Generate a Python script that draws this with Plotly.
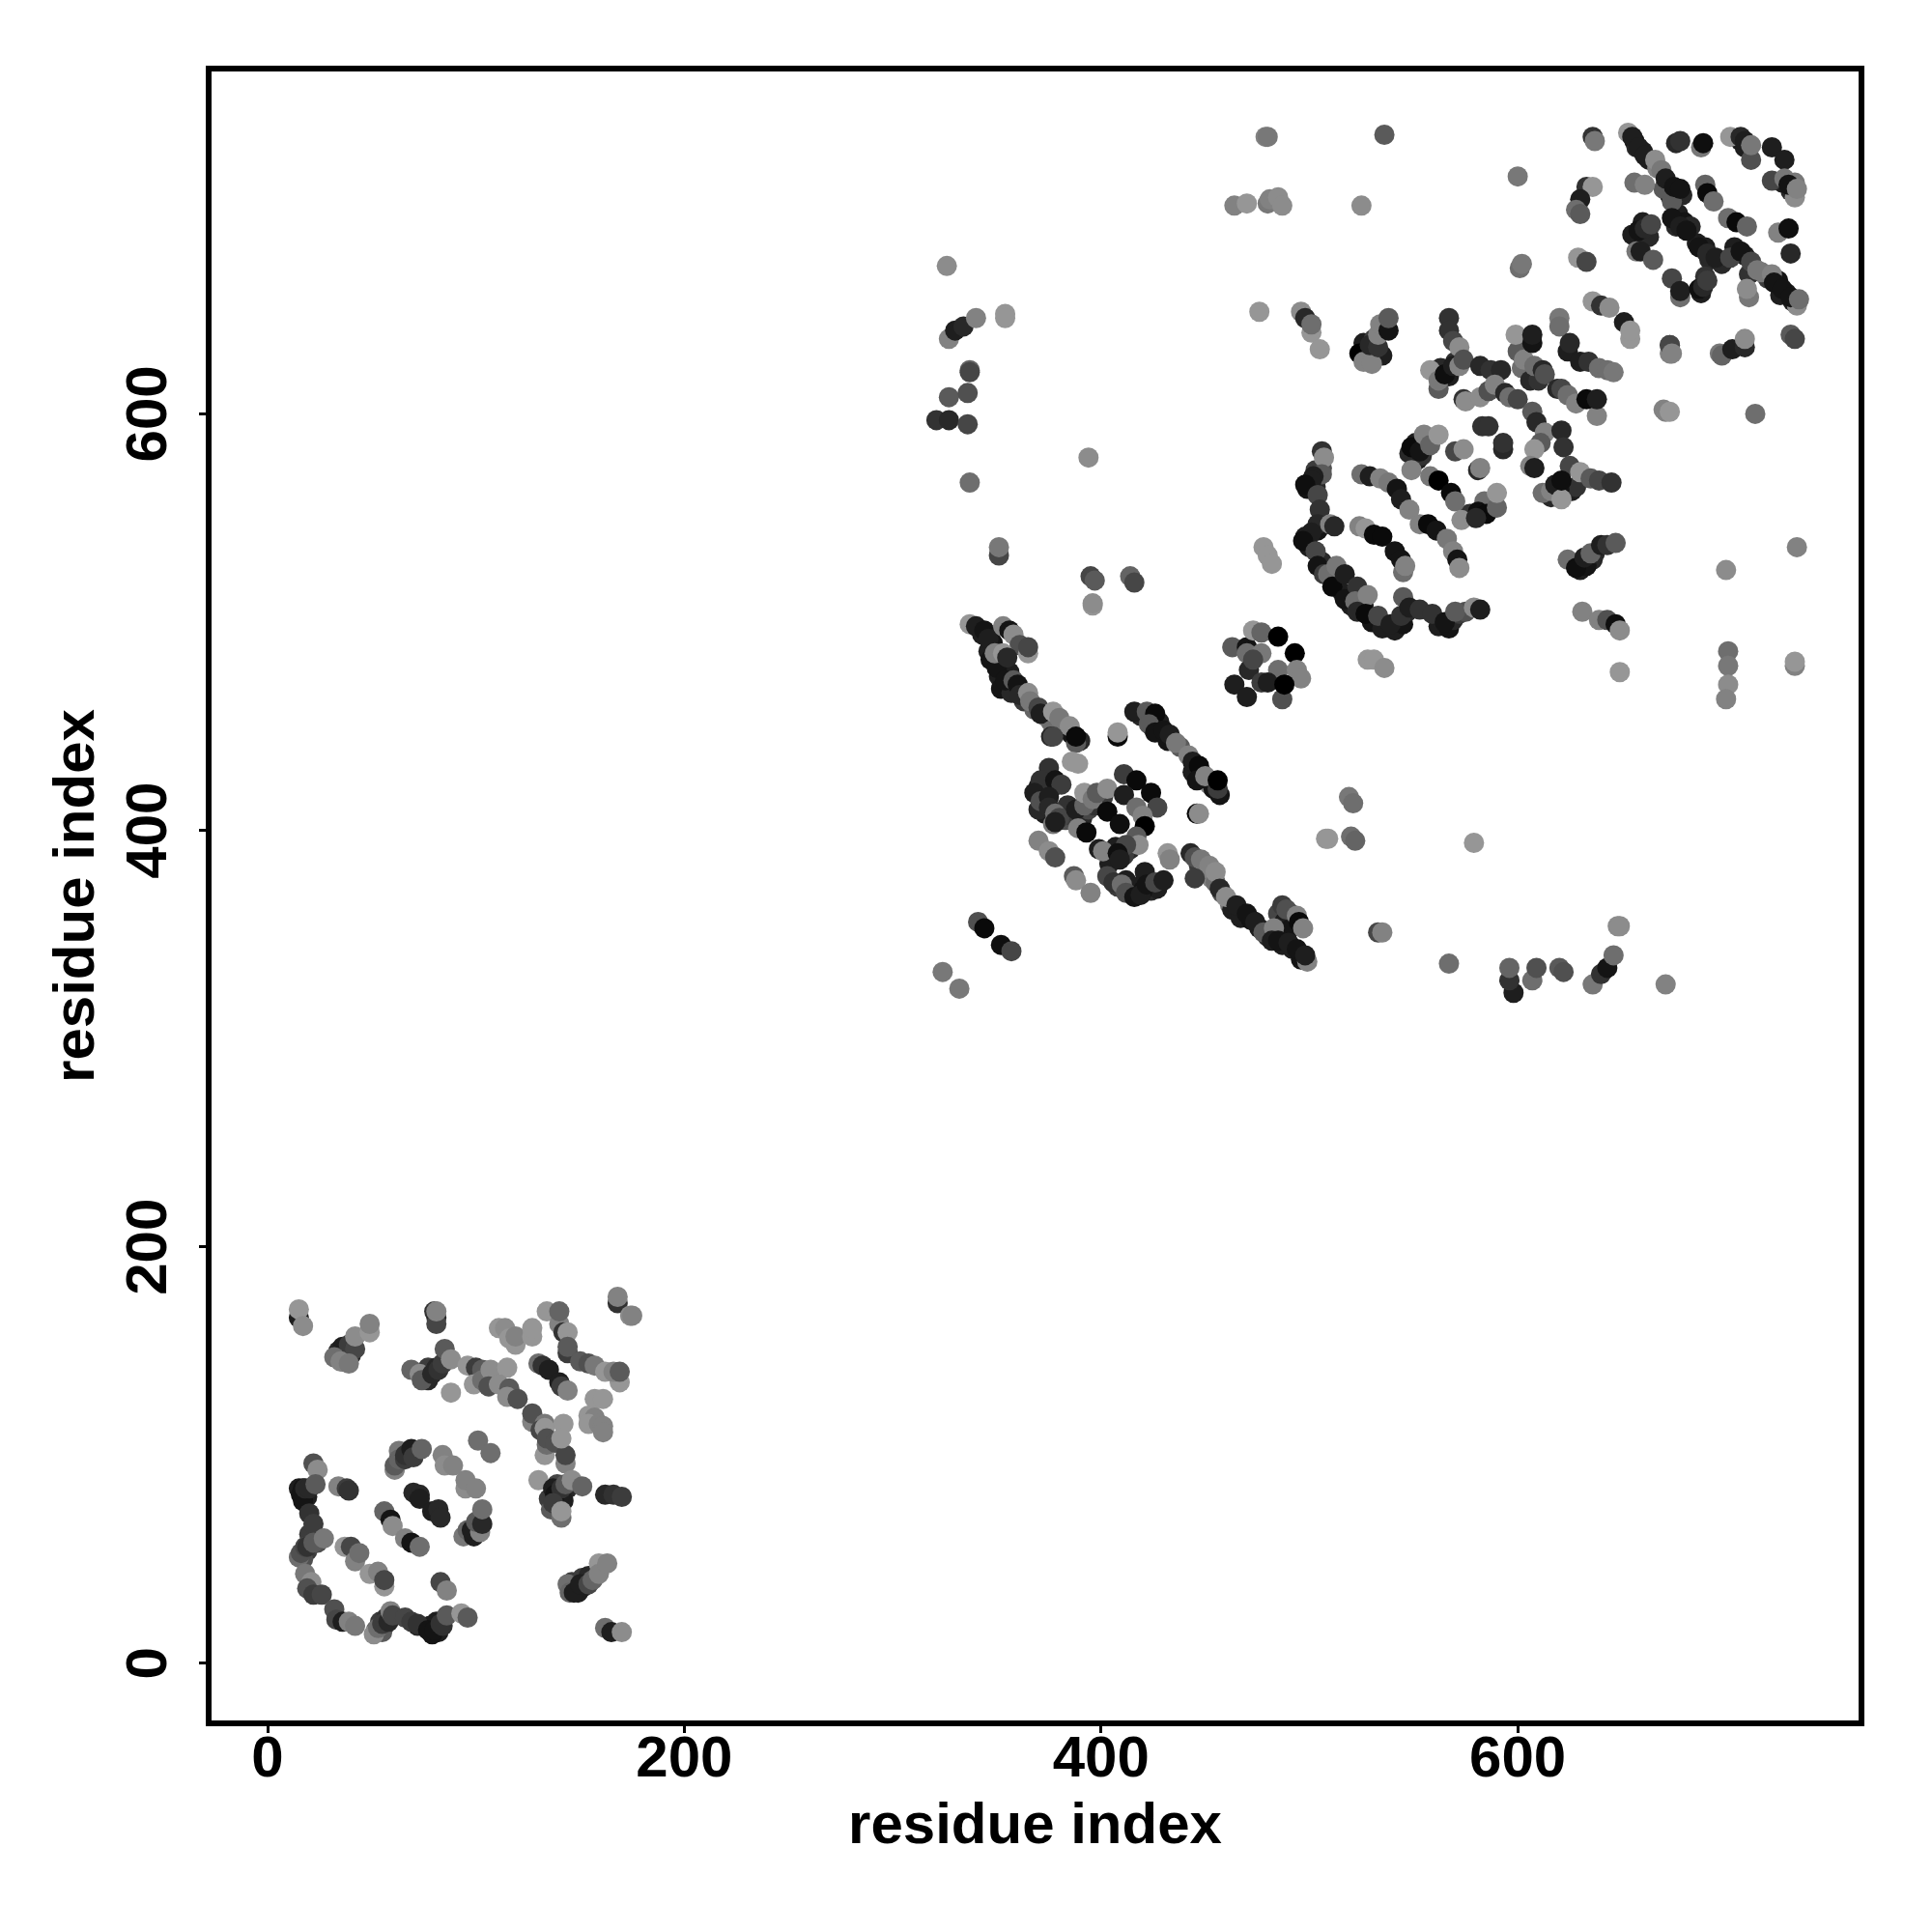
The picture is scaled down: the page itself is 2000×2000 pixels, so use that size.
import plotly.graph_objects as go

# (residue i, residue j, grey score)
dense_fill = [
(343,494,30),(348,490,20),(346,486,30),(351,474,30),(356,476,30),(352,468,20),(357,466,40),(363,462,60),(368,458,100),(373,455,130),(376,452,110),(382,448,130),(390,443,40),(386,446,20),
(419,455,40),(428,452,30),(425,449,60),(432,443,20),(438,440,90),(444,428,30),(448,428,40),(452,422,130),(454,420,20),
(447,383,60),(450,380,100),(453,377,130),(455,375,110),(458,370,80),(462,364,120),(463,362,30),(467,358,30),(472,357,20),(476,353,30),(480,349,40),(487,345,30),(492,343,30),(496,338,20),(491,360,60),(485,360,70),(488,356,30),(490,352,20),
(370,421,30),(372,420,20),(376,420,30),(373,408,30),(370,410,40),(383,405,80),(386,407,60),(391,406,40),(394,410,70),(397,412,50),(401,416,60),(384,412,50),(414,391,40),(411,388,60),(407,392,30),(404,384,30),(414,372,40),(412,376,30),(418,373,30),(424,371,40),(427,372,30),(408,373,60),(420,371,20),
(499,564,20),(503,565,40),(506,574,80),(503,573,60),(498,541,30),(500,536,30),(506,529,40),(504,544,20),(512,519,20),(516,514,30),(520,508,30),(526,508,30),(530,500,20),(535,497,30),(541,496,30),(543,500,30),(545,499,20),(547,505,40),(562,498,30),(567,497,20),(569,501,40),(572,504,60),(575,505,80),
(626,563,30),(628,565,50),(620,564,20),(616,560,40),(567,618,30),(563,622,40),(570,625,50),(600,630,90),(602,622,110),(606,616,40),(610,616,50),
(630,525,30),(636,530,40),(633,527,20),(637,533,40),(526,634,30),(527,628,20),(535,628,30),(531,636,60),
(552,578,30),(551,586,30),(554,580,50),(583,553,10),(587,556,40),(577,552,50),
(656,731,20),(657,728,40),(660,726,30),(663,722,30),(667,718,130),(672,710,30),(673,705,30),(676,706,40),(670,708,90),(679,705,40),
(660,692,30),(662,686,20),(655,686,30),(663,685,40),(677,696,30),(680,692,20),(683,690,40),(676,690,40),
(686,682,30),(690,680,30),(692,674,40),(698,672,40),(704,680,30),(709,676,30),
(725,664,20),(729,658,30),(732,654,30),(720,665,60),(717,668,120),(726,657,30),(688,658,30),(690,666,50),
(731,707,40),(727,711,30),(733,711,120),(707,731,30),(709,728,30),
(72,18,40),(52,16,100),(54,20,60),(56,18,40),(57,22,50),(55,15,90),(78,18,30),(81,20,30),(82,15,30),(79,14,20),(18,80,30),(15,84,30),(17,84,20),(19,80,30),(19,54,60),(21,57,70),(24,58,80),(17,50,80),
(20,62,60),(36,145,50),(38,148,40),(37,152,30),(40,148,40),(75,138,50),(77,142,60),(77,136,40),(81,142,40),(144,84,40),(142,78,30),(140,80,30),(147,36,40),(149,34,30),(152,37,30),(146,39,60),(151,41,60),(154,42,40),(139,86,70),(135,79,60),
]

lower_left = [
(15,166,30),(15,170,150),(17,162,140),
(34,150,40),(36,152,30),(39,153,60),(42,151,70),(32,147,110),(35,145,130),(39,144,120),(42,157,140),(49,159,150),(49,163,130),
(80,169,50),(81,166,40),(81,163,70),(81,169,130),
(69,141,100),(73,139,140),(74,136,90),(79,139,40),(82,141,50),(84,144,60),(85,151,90),(88,146,140),(88,130,150),
(96,143,150),(100,142,60),(103,141,90),(99,134,150),(103,136,110),(107,141,140),(115,142,150),(106,133,80),(111,134,140),(116,132,90),(115,128,140),(120,127,80),
(127,116,130),(127,120,80),(133,115,120),(131,112,70),(133,113,150),(133,100,150),(134,105,110),(134,108,80),(138,106,80),(142,115,150),(143,96,130),(143,100,70),(141,108,150),
(134,169,150),(140,163,130),(140,169,100),(142,159,50),(144,159,150),(144,149,60),(144,152,90),
(150,145,90),(154,144,80),(157,143,120),(162,140,150),(169,135,150),(166,140,130),(169,140,90),
(168,173,50),(168,176,130),(174,167,140),(175,167,130),
(111,161,150),(114,161,140),(116,156,150),(119,153,150),(119,157,130),(127,157,150),(127,161,150),
(130,144,110),(132,143,50),(135,141,30),(140,135,30),(141,133,60),(144,131,130),
(157,127,150),(161,127,150),(154,119,150),(157,118,130),(154,115,150),(159,115,130),(161,114,130),(161,111,130),
(101,107,110),(107,101,110),(130,88,150),
(137,84,30),(138,81,20),(141,84,50),(143,86,90),(146,88,140),(151,85,100),(136,74,90),(137,77,60),(141,70,110),(141,73,150),
(162,81,40),(166,81,50),(170,80,60),
(63,102,120),(61,93,130),(61,95,90),(63,98,100),(66,98,60),(66,100,50),(69,103,30),(70,99,60),(74,103,100),
(84,100,130),(85,95,140),(89,95,130),(95,84,140),(95,88,130),(100,84,130),
(70,82,40),(73,81,40),(73,79,30),(79,73,30),(82,74,40),(83,70,40),
(56,73,100),(59,69,20),(60,66,140),(66,60,130),(69,58,20),(73,56,110),
(94,61,120),(96,64,100),(99,61,30),(98,64,30),(102,63,130),(100,68,90),(103,67,40),(103,74,110),
(22,96,80),(24,93,140),(16,81,20),(17,78,20),(18,84,40),(20,84,40),(23,86,90),(20,72,50),(22,67,60),
(34,85,130),(38,84,60),(39,83,50),
(15,51,110),(16,53,80),(18,56,70),(19,56,50),(22,58,90),(27,60,120),
(37,56,150),(40,56,70),(42,49,130),(44,53,110),(49,43,150),(53,44,130),(56,37,150),(56,40,70),
(18,43,120),(21,39,140),(19,36,80),(22,33,60),(26,33,70),
(32,26,80),(33,21,70),(36,20,30),(39,20,130),(42,18,120),
(51,14,140),(53,17,110),(55,19,60),(58,20,40),(59,25,130),(60,23,70),
(66,22,70),(69,20,60),(72,19,50),(77,16,20),(80,16,20),(84,18,50),(83,19,50),(86,23,90),(93,24,150),(96,22,90),
(83,39,70),(86,35,130),
(144,38,110),(145,34,100),(147,34,30),(150,38,30),(154,38,70),(156,40,100),(159,48,150),(159,43,130),(163,48,130),
(162,17,110),(165,15,30),(170,15,140),
]

middle = [
(337,499,150),(340,498,30),(344,496,20),(346,492,30),(353,498,130),(356,496,20),(358,494,140),(361,489,80),(365,485,150),(365,488,70),
(347,482,20),(350,478,20),(349,485,130),(353,485,150),(355,483,40),(354,472,20),(358,472,90),(360,470,20),(361,465,40),(365,466,140),(366,462,120),(370,459,70),(371,456,30),(377,457,150),(380,454,120),(385,450,140),(376,445,40),(377,445,70),(388,442,90),(388,445,10),
(386,433,150),(389,432,150),(408,445,10),(408,447,150),
(416,457,30),(422,457,90),(426,456,10),(423,451,90),(426,447,20),(430,448,20),(433,446,30),(436,442,120),(442,436,130),(444,433,30),(447,431,10),(446,424,20),(450,426,130),(457,417,20),(456,420,60),(456,424,0),
(446,408,10),(447,408,140),
(375,430,50),(371,424,50),(378,424,20),(381,422,60),(368,418,30),(371,414,80),(375,416,30),(375,411,40),(378,408,110),(380,406,70),(377,403,120),(378,404,30),
(388,410,30),(392,412,100),(392,418,150),(396,415,120),(398,418,90),(403,420,140),(411,427,60),(417,424,10),(411,417,30),(403,409,10),(424,418,10),(427,411,70),(417,411,110),(420,407,130),(421,402,0),(409,403,15),(389,401,130),(393,399,10),
(417,397,90),(418,393,140),(412,393,70),(399,391,30),(401,390,130),(408,389,15),(409,386,30),
(370,395,130),(375,390,140),(378,387,80),(387,378,90),(388,376,140),(395,370,130),(432,389,150),(433,386,130),
(403,378,70),(406,375,50),(410,374,110),(412,370,80),(416,368,20),(419,369,30),(421,380,30),(422,374,20),(426,375,70),(430,376,30),
(443,389,40),(445,387,80),(448,386,120),(452,383,130),(455,380,140),(445,377,60),(457,372,40),(460,368,140),(465,364,30),(470,360,20),(474,356,30),(478,351,90),(483,353,130),(487,364,60),(489,362,80),(494,359,130),(495,356,10),(497,353,130),(482,347,30),(485,347,20),(490,346,30),(494,343,20),(499,337,130),(498,340,30),
(341,356,80),(344,353,10),(352,345,15),(357,342,70),(324,332,120),(332,324,120),
(396,508,150),(508,396,150),(519,416,120),(521,413,110),(520,397,110),(522,395,100),
(463,488,90),(470,488,20),(473,496,150),(477,495,100),(485,493,0),(493,485,0),(470,485,110),(477,485,120),(471,477,40),(473,482,70),(485,477,110),(494,477,130),(496,473,130),(464,470,30),(470,464,30),(477,471,60),(480,471,30),(487,463,80),(488,470,0),
]

upper_mid = [
(476,649,150),(496,649,140),(498,646,40),(501,639,150),(501,643,110),(505,631,150),
(524,629,0),(526,625,130),(530,624,130),(529,633,40),(533,632,50),(533,638,130),(534,643,130),(538,640,20),(538,646,90),
(567,646,50),(567,640,50),(569,635,70),(572,632,140),
(558,621,150),(562,612,90),(562,616,120),(565,619,15),(569,623,30),(572,623,130),(574,626,80),
(582,623,40),(587,621,50),(592,621,40),
(574,607,50),(575,606,140),(582,608,140),(586,611,80),(589,614,130),(594,610,40),(596,608,110),(600,607,70),
(599,638,150),(603,626,130),(607,634,20),(607,638,30),(608,623,110),(612,621,40),(613,619,80),
(620,646,120),(620,642,110),(624,630,30),(625,634,40),(630,625,30),(634,625,50),(639,622,110),(643,621,110),(646,620,120),
(619,612,40),(621,612,70),(624,609,110),(628,605,130),(638,599,130),(633,607,10),(638,607,30),
(607,601,90),(609,596,40),(613,591,130),(611,586,90),(608,583,150),(606,575,130),(608,574,30),
(621,592,40),(622,584,50),(625,575,70),(612,562,110),(616,563,130),(618,566,30),(621,559,150),(621,568,15),(630,572,150),(635,569,90),(639,568,70),(645,567,50),
(636,654,150),(640,652,50),(644,651,140),(654,636,150),(651,644,30),(654,640,150),
(673,629,130),(673,633,80),(670,602,130),
(548,581,40),(549,584,10),(553,582,20),(555,590,130),(558,585,100),(562,590,150),(549,573,130),
(558,570,120),(562,568,0),(568,562,10),(570,558,110),
(570,582,70),(574,583,140),(581,573,40),(582,574,130),
(583,594,50),(586,594,50),(593,583,40),(593,586,50),
(584,558,110),(581,553,15),(585,552,10),(590,555,100),(590,562,150),(573,549,140),(580,550,40),
(506,582,50),(507,579,140),(506,571,90),(502,570,30),(501,568,30),(498,566,15),(504,561,70),(505,554,50),
(504,547,40),(501,543,30),(497,539,15),(503,534,70),(510,547,130),(512,546,40),(504,527,20),(507,523,60),(509,523,110),(513,527,120),(511,517,10),(517,523,30),(517,511,20),(523,517,50),(522,510,110),(528,513,130),(523,505,40),(527,504,10),(533,503,70),(539,499,30),(545,512,90),(544,503,50),(548,507,30),(553,506,50),(559,504,50),(565,500,20),(570,505,90),(579,507,140),(582,506,30),
(525,571,110),(529,570,30),(534,569,130),(538,567,120),(542,564,20),(544,559,30),(548,554,130),(553,547,130),(557,547,10),(561,544,20),(566,540,120),(569,534,130),(571,530,20),(572,526,140),
(524,546,130),(527,545,150),(531,542,10),(535,541,10),(541,534,20),(544,530,20),(545,524,110),(546,527,130),
(478,536,150),(480,532,150),(482,528,150),(528,482,150),(531,482,150),(536,478,140),
(624,530,110),(628,526,15),(632,531,30),(635,533,100),(640,537,30),(643,537,50),(647,538,90),
(631,505,130),(639,501,130),(643,501,80),(647,499,15),(649,496,140),(649,476,150),
]

upper_right = [
(600,714,120),(636,733,50),(637,731,120),
(633,709,50),(636,709,150),(630,703,30),(628,698,110),(630,696,90),
(653,735,150),(655,733,30),(658,728,30),(661,724,30),(666,722,140),(669,717,120),(671,713,30),(674,702,90),(675,709,20),(678,708,20),
(656,711,110),(661,710,130),
(676,730,40),(678,731,50),(688,728,120),(689,730,15),
(690,710,100),(691,706,10),(694,702,110),
(702,733,150),(707,733,40),(709,731,30),(712,722,80),(712,729,120),(722,728,30),(728,722,30),
(722,712,70),(728,713,120),(733,704,140),(730,710,20),(734,708,130),
(701,694,110),(705,692,10),(710,690,100),
(725,687,130),(730,689,15),(731,677,40),
(658,688,20),(661,689,40),(664,691,70),(674,694,20),(678,690,30),(681,688,20),
(657,678,120),(659,678,30),(665,674,90),
(687,680,20),(691,677,40),(695,675,30),(702,675,70),(707,678,20),(711,667,50),(712,673,70),(715,669,120),(711,656,120),(710,660,140),(722,667,130),(723,663,20),(727,660,20),(734,652,140),(731,656,20),(735,655,110),
(674,665,70),(678,656,110),(678,659,30),(687,660,15),(689,661,40),(691,664,60),
(601,670,110),(602,672,120),(629,675,150),(633,673,70),
(673,633,70),(674,629,130),
(697,629,120),(698,628,100),(703,631,30),(709,632,40),(709,636,140),
(731,638,90),(733,636,70),(671,601,130),(673,601,150),(714,600,110),
]

scattered = [
(479,733,130),(480,733,120),(536,734,90),(464,700,130),(470,701,150),(480,701,120),(481,703,130),(485,704,140),(487,700,140),(525,700,140),
(326,671,140),(327,636,130),(330,640,30),(334,642,40),(340,646,130),(354,648,150),(354,646,150),
(337,621,100),(337,620,70),(327,608,90),(336,610,80),(321,597,50),(327,597,40),(336,595,70),(337,567,110),
(394,579,140),(351,532,70),(351,536,120),(395,522,70),(397,520,90),(396,509,140),(414,522,100),(416,519,70),
(700,525,140),(734,536,130),(701,486,110),(701,479,120),(701,470,140),(700,463,130),(733,479,130),(733,481,150),
(509,396,150),(579,394,150),(533,351,70),(535,351,130),(567,336,110),(671,326,130),(648,354,140),(649,354,140),
(598,322,30),(596,328,50),(596,334,100),(607,328,110),(609,334,80),(620,334,90),(622,332,80),(636,326,120),(640,331,50),(643,334,20),(646,340,110),
]

tick_values = [0, 200, 400, 600]
tick_labels = ["0", "200", "400", "600"]
axis_title = "residue index"

points = dense_fill + lower_left + middle + upper_mid + upper_right + scattered
xs = [p[0] for p in points]
ys = [p[1] for p in points]
scores = [p[2] for p in points]

fig = go.Figure(go.Scatter(
    x=xs, y=ys, mode="markers",
    marker=dict(size=21, color=scores, cmin=0, cmax=255,
                colorscale=[[0, "rgb(0,0,0)"], [1, "rgb(255,255,255)"]],
                showscale=False, line=dict(width=0)),
    hoverinfo="skip",
))

font = dict(family="Liberation Sans", size=60, color="black", weight="bold")
axis = dict(tickmode="array", tickvals=tick_values, ticktext=tick_labels,
            ticks="outside", ticklen=7, tickwidth=3, tickcolor="black",
            showline=True, linewidth=6, linecolor="black", mirror=True,
            showgrid=False, zeroline=False, tickfont=font)

fig.update_layout(
    width=1984, height=1984, autosize=False,
    margin=dict(l=211, r=68, t=66, b=211, pad=0),
    paper_bgcolor="white", plot_bgcolor="white", showlegend=False,
    xaxis=dict(axis, range=[-26.9, 763.6], ticklabelstandoff=-27,
               title=dict(text=axis_title, font=font, standoff=17)),
    yaxis=dict(axis, range=[-27.4, 764.4], tickangle=-90, ticklabelstandoff=10, ticklabelshift=9,
               title=dict(text=axis_title, font=font, standoff=3)),
)
fig.write_html("out.html")
